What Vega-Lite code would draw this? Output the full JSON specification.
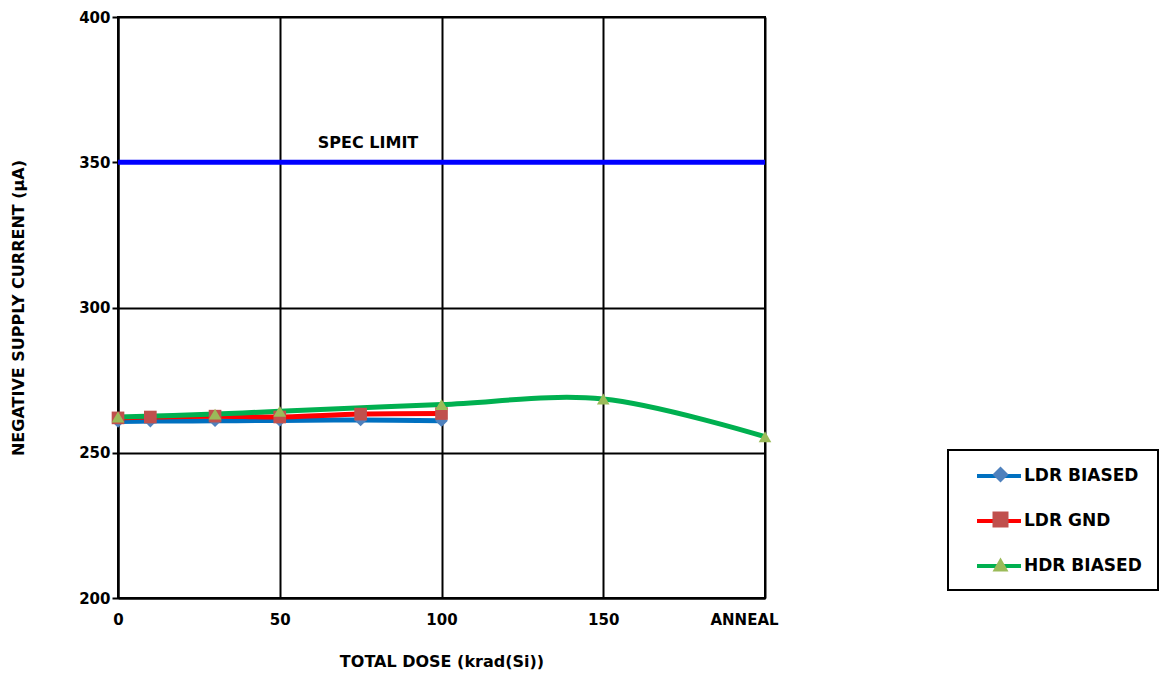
{
  "$schema": "https://vega.github.io/schema/vega-lite/v6.json",
  "width": 647,
  "height": 581,
  "padding": {"left": 10, "top": 10, "right": 0, "bottom": 5},
  "background": "white",
  "config": {
    "font": "DejaVu Sans",
    "view": {"stroke": "black", "strokeWidth": 2},
    "axis": {
      "domainColor": "black", "domainWidth": 2,
      "gridColor": "black", "gridWidth": 2, "gridOpacity": 1,
      "tickColor": "black", "tickWidth": 2,
      "labelFont": "DejaVu Sans", "labelFontSize": 15, "labelFontWeight": "bold", "labelColor": "black",
      "titleFont": "DejaVu Sans", "titleFontSize": 16, "titleFontWeight": "bold", "titleColor": "black"
    }
  },
  "datasets": {
    "measurements": [
      {"series": "LDR BIASED", "dose": 0, "current": 260.8},
      {"series": "LDR BIASED", "dose": 10, "current": 260.9},
      {"series": "LDR BIASED", "dose": 30, "current": 261.0},
      {"series": "LDR BIASED", "dose": 50, "current": 261.1},
      {"series": "LDR BIASED", "dose": 75, "current": 261.3},
      {"series": "LDR BIASED", "dose": 100, "current": 261.0},
      {"series": "LDR GND", "dose": 0, "current": 262.0},
      {"series": "LDR GND", "dose": 10, "current": 262.3},
      {"series": "LDR GND", "dose": 30, "current": 262.6},
      {"series": "LDR GND", "dose": 50, "current": 262.3},
      {"series": "LDR GND", "dose": 75, "current": 263.3},
      {"series": "LDR GND", "dose": 100, "current": 263.5},
      {"series": "HDR BIASED", "dose": 0, "current": 262.3},
      {"series": "HDR BIASED", "dose": 30, "current": 263.3},
      {"series": "HDR BIASED", "dose": 50, "current": 264.3},
      {"series": "HDR BIASED", "dose": 100, "current": 266.6},
      {"series": "HDR BIASED", "dose": 150, "current": 268.5},
      {"series": "HDR BIASED", "dose": 200, "current": 255.5}
    ],
    "limits": [
      {"label": "SPEC LIMIT", "limit": 350}
    ]
  },
  "layer": [
    {
      "data": {"name": "limits"},
      "mark": {"type": "rule", "color": "#0000FF", "strokeWidth": 5},
      "encoding": {
        "y": {"field": "limit", "type": "quantitative", "scale": {"domain": [200, 400], "nice": false}}
      }
    },
    {
      "data": {"name": "limits"},
      "mark": {"type": "text", "font": "DejaVu Sans", "fontSize": 16, "fontWeight": "bold", "color": "black", "align": "center", "baseline": "middle", "dy": -19},
      "encoding": {
        "x": {"datum": 77.3, "type": "quantitative", "scale": {"domain": [0, 200], "nice": false}, "axis": {"grid": true}},
        "y": {"field": "limit", "type": "quantitative"},
        "text": {"field": "label"}
      }
    },
    {
      "data": {"name": "measurements"},
      "encoding": {
        "x": {
          "field": "dose", "type": "quantitative",
          "scale": {"domain": [0, 200], "nice": false},
          "axis": {
            "title": "TOTAL DOSE (krad(Si))",
            "grid": true,
            "values": [0, 50, 100, 150, 200],
            "tickSize": 0,
            "labelPadding": 14,
            "titlePadding": 26,
            "labelFlush": false,
            "labelOffset": {"expr": "datum.value == 200 ? -21 : 0"},
            "labelExpr": "datum.value == 200 ? 'ANNEAL' : datum.label"
          }
        },
        "y": {
          "field": "current", "type": "quantitative",
          "scale": {"domain": [200, 400], "nice": false},
          "axis": {
            "title": "NEGATIVE SUPPLY CURRENT (μA)",
            "grid": true,
            "values": [200, 250, 300, 350, 400],
            "tickSize": 6,
            "labelPadding": 2,
            "titlePadding": 52
          }
        }
      },
      "layer": [
        {
          "mark": {"type": "line", "strokeWidth": 5, "interpolate": "catmull-rom"},
          "encoding": {
            "stroke": {
              "field": "series", "type": "nominal",
              "scale": {"domain": ["LDR BIASED", "LDR GND", "HDR BIASED"], "range": ["#0070C0", "#FF0000", "#00B050"]},
              "legend": {
                "orient": "none", "legendX": 830, "legendY": 433, "title": null,
                "symbolType": "M-2.75,0H2.75", "symbolSize": 256, "symbolStrokeWidth": 4,
                "padding": 16, "rowPadding": 27, "labelOffset": 15, "symbolOffset": 25,
                "labelFont": "DejaVu Sans", "labelFontSize": 17, "labelFontWeight": "bold", "labelColor": "black", "labelLimit": 300,
                "strokeColor": "black",
                "encode": {"legend": {"update": {"strokeWidth": {"value": 2}, "width": {"value": 192}}}}
              }
            }
          }
        },
        {
          "mark": {"type": "point", "filled": true, "opacity": 1, "size": 160},
          "encoding": {
            "fill": {
              "field": "series", "type": "nominal", "sort": null,
              "scale": {"range": ["#4F81BD", "#C0504D", "#9BBB59"]},
              "legend": {
                "orient": "none", "legendX": 830, "legendY": 433, "title": null,
                "symbolSize": 256, "symbolStrokeWidth": 0, "symbolOpacity": 1,
                "padding": 16, "rowPadding": 27, "labelOffset": 0, "symbolOffset": 28,
                "labelFontSize": 17, "labelExpr": "''"
              }
            },
            "shape": {
              "field": "series", "type": "nominal", "sort": null,
              "scale": {"range": ["diamond", "square", "triangle-up"]},
              "legend": {
                "orient": "none", "legendX": 830, "legendY": 433, "title": null,
                "symbolSize": 256, "symbolStrokeWidth": 0, "symbolOpacity": 1,
                "padding": 16, "rowPadding": 27, "labelOffset": 0, "symbolOffset": 28,
                "labelFontSize": 17, "labelExpr": "''"
              }
            }
          }
        }
      ]
    }
  ]
}
